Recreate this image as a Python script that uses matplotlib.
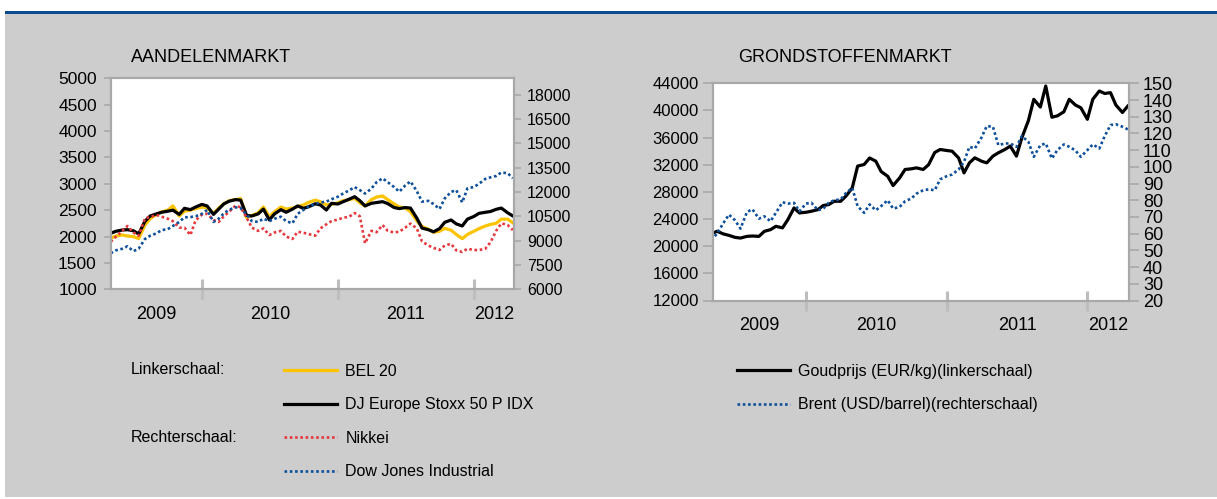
import numpy as np
import pandas as pd
import matplotlib
matplotlib.use('Agg')
import matplotlib.pyplot as plt
from matplotlib.patches import Rectangle

plt.rcParams['font.family'] = ['Liberation Sans', 'DejaVu Sans']

# semi-monthly observations, May 2009 - April 2012
dates = pd.date_range('2009-05-01', periods=72, freq='SMS')

# Aandelenmarkt - left scale
bel20 = [1970, 2010, 2030, 2010, 2000, 1960, 2220, 2340, 2420, 2470, 2500, 2580,
         2390, 2480, 2500, 2530, 2560, 2540, 2440, 2540, 2620, 2680, 2700, 2720,
         2360, 2400, 2450, 2560, 2376, 2470, 2560, 2520, 2540, 2570, 2600, 2650,
         2690, 2660, 2600, 2610, 2640, 2680, 2700, 2724, 2640, 2580, 2700, 2750,
         2769, 2700, 2620, 2560, 2540, 2471, 2300, 2190, 2140, 2080, 2100, 2156,
         2120, 2040, 1960, 2040, 2100, 2150, 2200, 2230, 2251, 2330, 2330, 2260]
stoxx50 = [2062, 2100, 2124, 2130, 2110, 2050, 2290, 2390, 2430, 2460, 2480, 2500,
           2420, 2535, 2510, 2560, 2610, 2580, 2420, 2520, 2620, 2670, 2700, 2690,
           2400, 2390, 2430, 2520, 2314, 2430, 2510, 2460, 2520, 2580, 2535, 2566,
           2620, 2600, 2503, 2630, 2617, 2660, 2710, 2756, 2680, 2580, 2630, 2645,
           2661, 2625, 2550, 2530, 2550, 2540, 2350, 2160, 2130, 2090, 2150, 2270,
           2314, 2240, 2200, 2330, 2380, 2440, 2460, 2475, 2516, 2540, 2450, 2390]
# right scale
nikkei = [8930, 9240, 9600, 9900, 9500, 9300, 10370, 10450, 10580, 10470, 10350, 10200,
          9800, 9800, 9345, 10250, 10600, 10650, 10270, 10150, 10500, 10780, 11150, 11050,
          10400, 9800, 9600, 9750, 9345, 9500, 9600, 9250, 9100, 9548, 9480, 9400,
          9300, 9750, 10000, 10200, 10300, 10400, 10480, 10700, 10500, 8834, 9600, 9520,
          9961, 9600, 9500, 9550, 9800, 10050, 9750, 8950, 8700, 8550, 8421, 8700,
          8800, 8400, 8300, 8500, 8420, 8420, 8500, 8900, 9600, 10066, 9960, 9650]
dowjones = [8220, 8400, 8500, 8650, 8350, 8500, 9100, 9300, 9450, 9650, 9700, 9900,
            10150, 10435, 10450, 10500, 10650, 10885, 10150, 10350, 10683, 10900, 11050, 11000,
            10600, 10200, 10150, 10350, 10200, 10350, 10472, 10200, 10066, 10650, 10900, 11100,
            11250, 11350, 11400, 11550, 11704, 11900, 12100, 12300, 12110, 11900, 12200, 12600,
            12838, 12600, 12300, 12012, 12400, 12650, 12050, 11400, 11450, 11250, 10950, 11600,
            12000, 12110, 11350, 12220, 12300, 12500, 12800, 12900, 12980, 13200, 13150, 12850]

# Grondstoffenmarkt
goud = [21800, 22200, 21800, 21600, 21300, 21200, 21450, 21500, 21450, 22190, 22440, 22930,
        22700, 23910, 25640, 24900, 25000, 25150, 25390, 26000, 26130, 26620, 26620, 27400,
        28590, 31800, 32040, 33000, 32530, 31000, 30300, 28930, 30070, 31300, 31400, 31540,
        31300, 32000, 33800, 34250, 34100, 34000, 33000, 30800, 32280, 33020, 32530, 32280,
        33270, 33760, 34250, 34750, 33270, 35970, 38500, 41640, 40500, 43600, 39000, 39200,
        39800, 41640, 40800, 40400, 38700, 41640, 42870, 42500, 42620, 40800, 39700, 40650]
brent = [56, 60, 66.4, 71.4, 68, 63, 73, 74.6, 69, 70.4, 67.4, 72.5,
         78.8, 78, 78.4, 73.4, 78, 78.5, 74, 75, 78.5, 80, 80.5, 84.4,
         87.4, 76.4, 72.5, 77.5, 74, 76.5, 80, 75, 76, 79.4, 81, 84,
         86, 86.5, 86, 92.5, 94.4, 95.4, 98.4, 103, 112, 111, 117.4, 124.4,
         124, 113, 114, 114, 112, 118.4, 115, 106, 113, 114, 105, 110,
         113.4, 112, 109.8, 106, 110, 113.4, 111, 118.4, 125, 125.5, 124, 122.4]

years = ['2009', '2010', '2011', '2012']
year_starts = pd.to_datetime(['2010-01-01', '2011-01-01', '2012-01-01'])

GRAY = '#a8a8a8'
W, H = 1217, 499

fig = plt.figure(figsize=(W / 100, H / 100), dpi=100)
fig.patch.set_facecolor('white')
fig.add_artist(Rectangle((5 / W, 2 / H), 1, (497 - 14) / H, transform=fig.transFigure,
                         facecolor='#cdcdcd', edgecolor='none', zorder=-10))
fig.add_artist(Rectangle((5 / W, (H - 14) / H), 1, 3 / H, transform=fig.transFigure,
                         facecolor='#0b4a8f', edgecolor='none', zorder=-10))


def style_axes(ax, ax2, x0, x1, ylen, lsize, rsize, lpad, rpad):
    for a in (ax, ax2):
        for s in a.spines.values():
            s.set_color(GRAY)
            s.set_linewidth(1.5)
    ax.set_xlim(x0, x1)
    ax.set_xticks(year_starts)
    ax.tick_params(axis='x', which='major', direction='inout', length=15, width=2.2,
                   color='#bdbdbd', labelbottom=False)
    edges = [x0] + list(year_starts) + [x1]
    mids = [edges[i] + (edges[i + 1] - edges[i]) / 2 for i in range(4)]
    ax.set_xticks(mids, minor=True)
    ax.set_xticklabels(years, minor=True)
    ax.tick_params(axis='x', which='minor', length=0, pad=12, labelsize=13)
    ax.tick_params(axis='y', direction='out', length=ylen, width=1.2, color=GRAY,
                   labelsize=lsize, pad=lpad)
    ax2.tick_params(axis='y', direction='out', length=ylen, width=1.2, color=GRAY,
                    labelsize=rsize, pad=rpad)


# ---- Aandelenmarkt
ax = fig.add_axes([110.7 / W, 1 - 289.3 / H, 403.3 / W, 211 / H])
ax2 = ax.twinx()
l_bel, = ax.plot(dates, bel20, color='#fcc400', lw=2.3)
l_dj, = ax.plot(dates, stoxx50, color='black', lw=2.3)
l_nik, = ax2.plot(dates, nikkei, color='#e8383d', lw=1.9, linestyle=(0, (1, 1)))
l_dow, = ax2.plot(dates, dowjones, color='#0d4f9a', lw=1.9, linestyle=(0, (1, 1)))
ax.set_ylim(1000, 5000)
ax.set_yticks(np.arange(1000, 5001, 500))
ax2.set_ylim(6000, 19000)
ax2.set_yticks(np.arange(6000, 18001, 1500))
style_axes(ax, ax2, pd.Timestamp('2009-05-01'), pd.Timestamp('2012-04-18'), 5,
           12.5, 11.5, 5, 4.5)
fig.text(131 / W, 1 - 57 / H, 'AANDELENMARKT', fontsize=13, va='center')

# ---- Grondstoffenmarkt
bx = fig.add_axes([712.7 / W, 1 - 300.5 / H, 416.3 / W, 217.2 / H])
bx2 = bx.twinx()
l_goud, = bx.plot(dates, goud, color='black', lw=2.3)
l_brent, = bx2.plot(dates, brent, color='#0d4f9a', lw=1.9, linestyle=(0, (1, 1)))
bx.set_ylim(12000, 44000)
bx.set_yticks(np.arange(12000, 44001, 4000))
bx2.set_ylim(20, 150)
bx2.set_yticks(np.arange(20, 151, 10))
style_axes(bx, bx2, pd.Timestamp('2009-05-04'), pd.Timestamp('2012-04-18'), 7,
           12, 13, 3, 3)
fig.text(738 / W, 1 - 57 / H, 'GRONDSTOFFENMARKT', fontsize=13, va='center')

# ---- legends
leg_kw = dict(loc='upper left', frameon=False, handlelength=3.3, handletextpad=0.55,
              labelspacing=1.15, borderpad=0, borderaxespad=0, fontsize=11.5)
fig.legend([l_bel, l_dj, l_nik, l_dow],
           ['BEL 20', 'DJ Europe Stoxx 50 P IDX', 'Nikkei', 'Dow Jones Industrial'],
           bbox_to_anchor=(284 / W, 1 - 364 / H), **leg_kw)
fig.legend([l_goud, l_brent],
           ['Goudprijs (EUR/kg)(linkerschaal)', 'Brent (USD/barrel)(rechterschaal)'],
           bbox_to_anchor=(737 / W, 1 - 364 / H), **leg_kw)
fig.text(131 / W, 1 - 369 / H, 'Linkerschaal:', fontsize=11.5, va='center')
fig.text(131 / W, 1 - 437 / H, 'Rechterschaal:', fontsize=11.5, va='center')

fig.savefig('out.png', dpi=100)
